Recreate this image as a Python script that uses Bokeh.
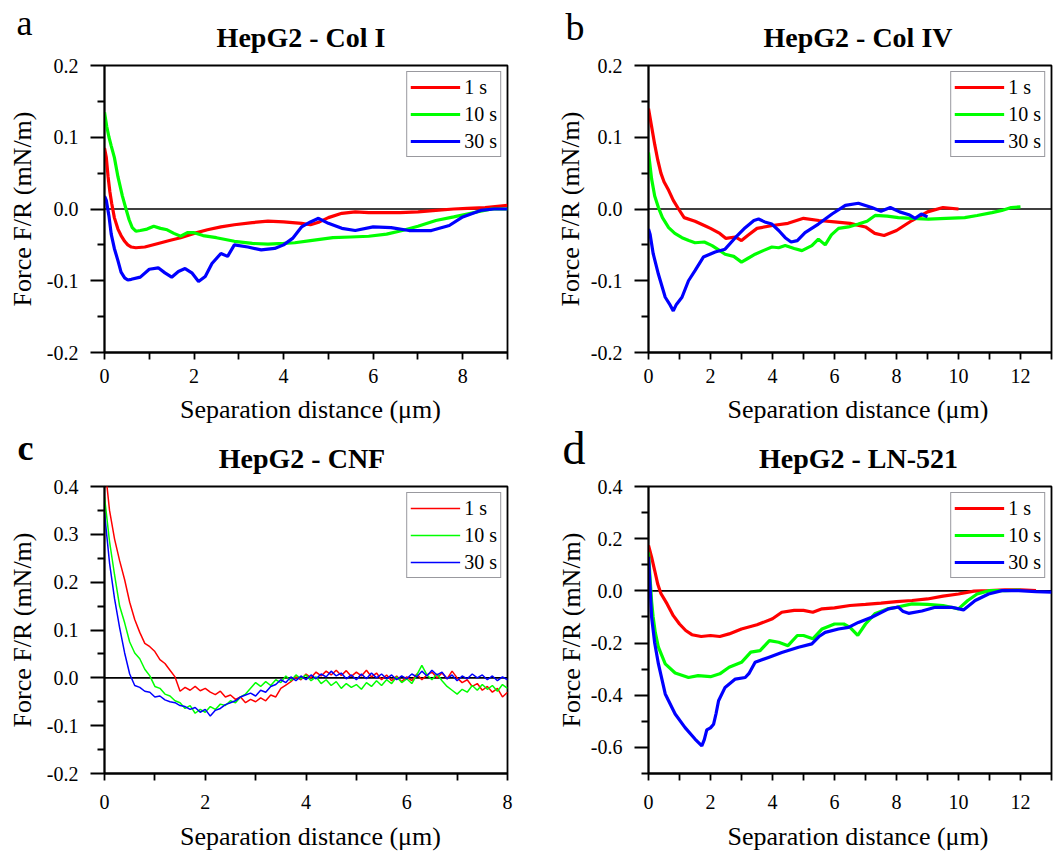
from bokeh.plotting import figure
from bokeh.models import (Range1d, FixedTicker, PrintfTickFormatter, Span, Label,
                          Legend, LegendItem)
from bokeh.layouts import column, row
from bokeh.embed import file_html
from bokeh.resources import INLINE

# ---------------- data ----------------
SERIES_LABELS = ["1 s", "10 s", "30 s"]
TITLES = ["HepG2 - Col I", "HepG2 - Col IV", "HepG2 - CNF", "HepG2 - LN-521"]
LETTERS = ["a", "b", "c", "d"]
X_LABEL = "Separation distance (\u03bcm)"
Y_LABEL = "Force F/R (mN/m)"

# Panel a: HepG2 - Col I
A_X_1S = [0.0, 0.04, 0.08, 0.12, 0.16, 0.22, 0.3, 0.37, 0.45, 0.52, 0.6, 0.7, 0.9, 1.2, 1.45, 1.7, 2.0, 2.3, 2.6, 2.9,
          3.3, 3.65, 4.0, 4.4, 4.6, 4.8, 5.0, 5.3, 5.6, 5.9, 6.3, 6.6, 7.0, 7.4, 7.8, 8.1, 8.5, 9.0]
A_Y_1S = [0.085, 0.072, 0.045, 0.024, 0.008, -0.012, -0.028, -0.037, -0.045, -0.050,
          -0.053, -0.054, -0.053, -0.048, -0.044, -0.040, -0.034, -0.029, -0.025, -0.022,
          -0.019, -0.017, -0.018, -0.020, -0.022, -0.018, -0.012, -0.006, -0.004, -0.005,
          -0.005, -0.005, -0.004, -0.002, 0.000, 0.001, 0.002, 0.005]
A_X_10S = [0.0, 0.05, 0.1, 0.15, 0.22, 0.3, 0.4, 0.48, 0.55, 0.62, 0.7, 0.8, 0.95, 1.1, 1.25, 1.4, 1.55, 1.7, 1.85, 2.0,
           2.2, 2.5, 2.9, 3.3, 3.65, 4.0, 4.25, 4.6, 5.1, 5.5, 5.9, 6.3, 6.65, 7.0, 7.4, 7.8, 8.1, 8.4, 8.65, 9.0]
A_Y_10S = [0.135, 0.115, 0.100, 0.088, 0.072, 0.045, 0.018, 0.000, -0.015, -0.026,
           -0.031, -0.030, -0.028, -0.024, -0.027, -0.029, -0.034, -0.038, -0.033, -0.033,
           -0.037, -0.040, -0.045, -0.048, -0.049, -0.048, -0.047, -0.044, -0.040, -0.039,
           -0.038, -0.035, -0.030, -0.024, -0.016, -0.011, -0.007, -0.003, 0.000, 0.000]
A_X_30S = [0.0, 0.04, 0.1, 0.15, 0.22, 0.3, 0.37, 0.45, 0.52, 0.6, 0.8, 1.0, 1.2, 1.35, 1.5, 1.65, 1.8, 1.95, 2.1, 2.25,
           2.4, 2.6, 2.75, 2.9, 3.2, 3.5, 3.8, 4.0, 4.2, 4.4, 4.6, 4.78, 5.0, 5.3, 5.6, 6.0, 6.4, 6.8, 7.3, 7.7,
           8.0, 8.4, 8.7, 9.0]
A_Y_30S = [0.018, 0.012, -0.010, -0.035, -0.055, -0.072, -0.088, -0.096, -0.099, -0.098,
           -0.095, -0.084, -0.082, -0.089, -0.095, -0.087, -0.083, -0.089, -0.101, -0.094,
           -0.076, -0.062, -0.066, -0.050, -0.053, -0.057, -0.055, -0.050, -0.041, -0.025,
           -0.018, -0.013, -0.020, -0.027, -0.030, -0.025, -0.026, -0.030, -0.030, -0.023,
           -0.011, -0.002, 0.000, 0.000]

# Panel b: HepG2 - Col IV
B_X_1S = [0.0, 0.1, 0.2, 0.3, 0.4, 0.5, 0.65, 0.8, 0.97, 1.15, 1.5, 1.8, 2.0, 2.3, 2.5, 2.8, 3.0, 3.2, 3.5, 4.0,
          4.5, 5.0, 5.5, 6.0, 6.5, 7.0, 7.3, 7.6, 8.0, 8.5, 9.0, 9.5, 10.0]
B_Y_1S = [0.140, 0.115, 0.090, 0.068, 0.050, 0.038, 0.026, 0.012, 0.000, -0.012,
          -0.017, -0.023, -0.027, -0.034, -0.041, -0.039, -0.044, -0.037, -0.027, -0.023,
          -0.020, -0.013, -0.016, -0.018, -0.020, -0.025, -0.034, -0.037, -0.030, -0.016,
          -0.004, 0.002, 0.000]
B_X_10S = [0.0, 0.1, 0.2, 0.32, 0.45, 0.65, 0.85, 1.08, 1.3, 1.5, 1.8, 2.05, 2.3, 2.47, 2.75, 3.0, 3.2, 3.44, 3.7, 3.98,
           4.2, 4.41, 4.7, 4.95, 5.27, 5.48, 5.7, 5.9, 6.13, 6.45, 6.77, 7.05, 7.31, 7.7, 8.06, 8.5, 9.03, 9.6, 10.2, 10.6,
           11.08, 11.4, 11.7, 12.0]
B_Y_10S = [0.079, 0.042, 0.018, 0.002, -0.012, -0.026, -0.034, -0.040, -0.044, -0.047,
           -0.046, -0.051, -0.058, -0.063, -0.066, -0.074, -0.069, -0.063, -0.058, -0.053,
           -0.054, -0.051, -0.055, -0.058, -0.051, -0.042, -0.050, -0.036, -0.027, -0.025,
           -0.021, -0.017, -0.009, -0.010, -0.012, -0.013, -0.014, -0.013, -0.012, -0.009,
           -0.005, -0.002, 0.002, 0.003]
B_X_30S = [0.0, 0.05, 0.15, 0.32, 0.54, 0.7, 0.8, 0.9, 1.08, 1.29, 1.5, 1.77, 2.15, 2.47, 2.8, 3.12, 3.4, 3.55, 3.75, 3.98,
           4.2, 4.41, 4.6, 4.8, 5.05, 5.48, 5.92, 6.35, 6.77, 7.2, 7.5, 7.8, 8.1, 8.4, 8.6, 8.8, 9.0]
B_Y_30S = [-0.028, -0.035, -0.062, -0.091, -0.123, -0.134, -0.142, -0.133, -0.123, -0.100,
           -0.086, -0.067, -0.060, -0.056, -0.040, -0.026, -0.016, -0.014, -0.018, -0.021,
           -0.030, -0.040, -0.046, -0.044, -0.033, -0.021, -0.007, 0.005, 0.008, 0.002,
           -0.003, 0.002, -0.004, -0.008, -0.013, -0.007, -0.011]

# Panel c: HepG2 - CNF (noisy traces sampled every 0.1 um)
C_X = [0.0, 0.1, 0.2, 0.3, 0.4, 0.5, 0.6, 0.7, 0.8, 0.9,
       1.0, 1.1, 1.2, 1.3, 1.4, 1.5, 1.6, 1.7, 1.8, 1.9,
       2.0, 2.1, 2.2, 2.3, 2.4, 2.5, 2.6, 2.7, 2.8, 2.9,
       3.0, 3.1, 3.2, 3.3, 3.4, 3.5, 3.6, 3.7, 3.8, 3.9,
       4.0, 4.1, 4.2, 4.3, 4.4, 4.5, 4.6, 4.7, 4.8, 4.9,
       5.0, 5.1, 5.2, 5.3, 5.4, 5.5, 5.6, 5.7, 5.8, 5.9,
       6.0, 6.1, 6.2, 6.3, 6.4, 6.5, 6.6, 6.7, 6.8, 6.9,
       7.0, 7.1, 7.2, 7.3, 7.4, 7.5, 7.6, 7.7, 7.8, 7.9,
       8.0]
C_Y_1S = [0.450, 0.350, 0.290, 0.245, 0.205, 0.158, 0.122, 0.095, 0.072, 0.065,
          0.055, 0.038, 0.030, 0.016, 0.002, -0.028, -0.020, -0.026, -0.018, -0.027,
          -0.022, -0.030, -0.035, -0.028, -0.040, -0.036, -0.045, -0.040, -0.052, -0.045,
          -0.050, -0.042, -0.048, -0.036, -0.040, -0.022, -0.015, -0.008, 0.002, -0.004,
          0.008, 0.000, 0.012, 0.004, 0.014, 0.006, 0.016, 0.005, 0.015, 0.003,
          0.012, 0.004, 0.016, 0.002, 0.010, -0.004, 0.006, -0.006, 0.004, -0.008,
          0.002, -0.006, 0.008, -0.004, 0.006, 0.012, 0.000, 0.010, -0.002, 0.014,
          0.000, -0.010, -0.004, -0.018, -0.012, -0.026, -0.018, -0.030, -0.022, -0.040,
          -0.030]
C_Y_10S = [0.378, 0.285, 0.215, 0.150, 0.115, 0.075, 0.052, 0.040, 0.018, 0.004,
           -0.018, -0.022, -0.034, -0.038, -0.048, -0.052, -0.064, -0.058, -0.074, -0.066,
           -0.072, -0.060, -0.066, -0.055, -0.058, -0.048, -0.052, -0.040, -0.034, -0.022,
           -0.010, -0.018, -0.008, -0.016, -0.004, -0.010, 0.004, -0.006, 0.006, -0.002,
           0.006, -0.006, 0.002, -0.012, -0.004, -0.016, -0.008, -0.022, -0.012, -0.020,
           -0.014, -0.024, -0.010, -0.018, -0.006, -0.016, -0.004, -0.012, 0.002, -0.010,
           -0.002, -0.012, 0.006, 0.026, 0.006, -0.004, 0.008, -0.006, -0.018, -0.026,
           -0.034, -0.024, -0.030, -0.016, -0.026, -0.014, -0.024, -0.016, -0.028, -0.014,
           -0.022]
C_Y_30S = [0.345, 0.240, 0.165, 0.105, 0.052, 0.008, -0.016, -0.020, -0.028, -0.030,
           -0.040, -0.038, -0.046, -0.050, -0.052, -0.058, -0.060, -0.066, -0.062, -0.072,
           -0.066, -0.080, -0.068, -0.064, -0.056, -0.052, -0.048, -0.040, -0.036, -0.032,
           -0.038, -0.026, -0.030, -0.018, -0.014, -0.004, -0.010, 0.002, -0.006, 0.004,
           -0.004, 0.006, -0.002, 0.008, 0.002, 0.014, 0.004, 0.010, -0.002, 0.006,
           -0.004, 0.008, -0.002, 0.010, 0.000, 0.008, -0.002, 0.006, -0.004, 0.004,
           -0.002, 0.008, 0.002, 0.014, 0.004, 0.016, 0.006, 0.012, -0.002, 0.006,
           -0.006, 0.004, -0.002, 0.008, 0.000, 0.006, -0.004, 0.004, -0.006, 0.002,
           -0.004]

# Panel d: HepG2 - LN-521
D_X_1S = [0.0, 0.1, 0.2, 0.3, 0.4, 0.6, 0.8, 1.0, 1.2, 1.4, 1.7, 2.0, 2.3, 2.6, 3.0, 3.5, 4.0, 4.3, 4.7, 5.0,
          5.3, 5.6, 6.0, 6.5, 7.0, 7.5, 8.0, 8.5, 9.0, 9.5, 10.0, 10.5, 11.0, 11.5, 12.0, 12.5]
D_Y_1S = [0.174, 0.129, 0.078, 0.025, -0.010, -0.050, -0.095, -0.127, -0.152, -0.168,
          -0.175, -0.171, -0.175, -0.165, -0.146, -0.130, -0.107, -0.082, -0.075, -0.075,
          -0.082, -0.069, -0.065, -0.056, -0.052, -0.047, -0.041, -0.037, -0.031, -0.020,
          -0.012, -0.001, 0.001, 0.004, 0.004, 0.001]
D_X_10S = [0.0, 0.05, 0.1, 0.15, 0.22, 0.32, 0.54, 0.86, 1.29, 1.6, 2.0, 2.3, 2.6, 3.0, 3.3, 3.6, 3.9, 4.2, 4.5, 4.8,
           5.0, 5.3, 5.6, 6.0, 6.3, 6.5, 6.75, 7.0, 7.3, 7.7, 8.0, 8.5, 9.0, 9.5, 10.0, 10.3, 10.6, 11.0, 11.5, 12.0]
D_Y_10S = [0.148, 0.050, -0.040, -0.100, -0.160, -0.216, -0.280, -0.315, -0.332, -0.325,
           -0.329, -0.318, -0.293, -0.274, -0.235, -0.229, -0.191, -0.197, -0.210, -0.171,
           -0.171, -0.184, -0.146, -0.127, -0.127, -0.140, -0.171, -0.127, -0.088, -0.069,
           -0.063, -0.050, -0.052, -0.056, -0.069, -0.037, -0.012, 0.001, 0.001, 0.003]
D_X_30S = [0.0, 0.05, 0.1, 0.2, 0.32, 0.54, 0.86, 1.18, 1.5, 1.72, 1.8, 1.88, 2.0, 2.1, 2.18, 2.26, 2.47, 2.8, 3.12, 3.25,
           3.44, 3.87, 4.3, 4.84, 5.27, 5.5, 5.7, 6.13, 6.45, 6.77, 7.2, 7.74, 8.06, 8.2, 8.39, 8.82, 9.25, 9.78, 10.16, 10.54,
           10.97, 11.4, 11.94, 12.5, 13.0]
D_Y_30S = [0.130, 0.020, -0.100, -0.200, -0.280, -0.395, -0.472, -0.524, -0.568, -0.594,
           -0.570, -0.533, -0.525, -0.511, -0.470, -0.421, -0.370, -0.338, -0.332, -0.315,
           -0.274, -0.255, -0.236, -0.216, -0.203, -0.175, -0.159, -0.146, -0.140, -0.121,
           -0.101, -0.069, -0.062, -0.078, -0.086, -0.077, -0.063, -0.063, -0.073, -0.037,
           -0.012, 0.001, 0.001, -0.003, -0.005]

# Axis ranges and ticks
A_XR, A_YR = (0, 9), (-0.2, 0.2)
B_XR, B_YR = (0, 13), (-0.2, 0.2)
C_XR, C_YR = (0, 8), (-0.2, 0.4)
D_XR, D_YR = (0, 13), (-0.7, 0.4)
A_XT, A_XMT = [0, 2, 4, 6, 8], [1, 3, 5, 7, 9]
B_XT, B_XMT = [0, 2, 4, 6, 8, 10, 12], [1, 3, 5, 7, 9, 11, 13]
C_XT, C_XMT = [0, 2, 4, 6, 8], [1, 3, 5, 7]
AB_YT, AB_YMT = [-0.2, -0.1, 0.0, 0.1, 0.2], [-0.15, -0.05, 0.05, 0.15]
C_YT = [-0.2, -0.1, 0.0, 0.1, 0.2, 0.3, 0.4]
C_YMT = [-0.15, -0.05, 0.05, 0.15, 0.25, 0.35]
D_YT = [-0.6, -0.4, -0.2, 0.0, 0.2, 0.4]
D_YMT = [-0.7, -0.5, -0.3, -0.1, 0.1, 0.3]

# ---------------- styling / layout (page pixels) ----------------
FONT = "Liberation Serif"
COLORS = ["#FF0000", "#00FF00", "#0000FF"]
FW, FH = 403, 287        # plot frame size
PAGE_W = 1060
STRIP1 = (0, 53)          # letters + titles of row 1
ROW1 = (53, 393)
STRIP2 = (393, 474)       # x labels of row 1, letters + titles of row 2
ROW2 = (474, 818)
STRIP3 = (818, 852)       # x labels of row 2
BASE_SHIFT = 0.3375       # text middle lies this many em above the baseline

PANELS = [
    dict(series=[(A_X_1S, A_Y_1S), (A_X_10S, A_Y_10S), (A_X_30S, A_Y_30S)], lw=3.2,
         xr=A_XR, yr=A_YR, xt=A_XT, xmt=A_XMT, yt=AB_YT, ymt=AB_YMT,
         box=(0, ROW1[0], 530, ROW1[1]), frame=(104, 65), xstand=9, yls=7),
    dict(series=[(B_X_1S, B_Y_1S), (B_X_10S, B_Y_10S), (B_X_30S, B_Y_30S)], lw=3.2,
         xr=B_XR, yr=B_YR, xt=B_XT, xmt=B_XMT, yt=AB_YT, ymt=AB_YMT,
         box=(530, ROW1[0], 1060, ROW1[1]), frame=(648, 65), xstand=9, yls=3),
    dict(series=[(C_X, C_Y_1S), (C_X, C_Y_10S), (C_X, C_Y_30S)], lw=1.5,
         xr=C_XR, yr=C_YR, xt=C_XT, xmt=C_XMT, yt=C_YT, ymt=C_YMT,
         box=(0, ROW2[0], 530, ROW2[1]), frame=(104, 486), xstand=14, yls=7),
    dict(series=[(D_X_1S, D_Y_1S), (D_X_10S, D_Y_10S), (D_X_30S, D_Y_30S)], lw=3.2,
         xr=D_XR, yr=D_YR, xt=B_XT, xmt=B_XMT, yt=D_YT, ymt=D_YMT,
         box=(530, ROW2[0], 1060, ROW2[1]), frame=(648, 486), xstand=14, yls=2),
]

# texts placed in the strips: (text, x, baseline y, size px, bold, align)
STRIP_TEXTS = {
    STRIP1: [(LETTERS[0], 16, 35, 36, False, "left"),
             (LETTERS[1], 565, 39, 38, False, "left"),
             (TITLES[0], 300.5, 46.5, 28, True, "center"),
             (TITLES[1], 857.5, 46.5, 28, True, "center")],
    STRIP2: [(X_LABEL, 310, 417.5, 26, False, "center"),
             (X_LABEL, 857.5, 417.5, 26, False, "center"),
             (LETTERS[2], 17, 460, 36, True, "left"),
             (LETTERS[3], 562, 463.5, 46, False, "left"),
             (TITLES[2], 301.5, 467.5, 28, True, "center"),
             (TITLES[3], 858, 467.5, 28, True, "center")],
    STRIP3: [(X_LABEL, 310, 845, 26, False, "center"),
             (X_LABEL, 857.5, 845, 26, False, "center")],
}


def make_strip(span):
    top, bottom = span
    s = figure(width=PAGE_W, height=bottom - top, x_range=Range1d(0, PAGE_W),
               y_range=Range1d(bottom, top), x_axis_type=None, y_axis_type=None,
               output_backend="svg", toolbar_location=None, min_border=0)
    s.outline_line_color = None
    s.grid.visible = False
    s.background_fill_color = "white"
    s.border_fill_color = "white"
    for text, x, base, size, bold, align in STRIP_TEXTS[span]:
        s.add_layout(Label(x=x, y=base - BASE_SHIFT * size, text=text, text_font=FONT,
                           text_font_size=f"{size}px",
                           text_font_style="bold" if bold else "normal", text_color="black",
                           text_align=align, text_baseline="middle"))
    return s


def make_panel(P):
    x0, y0, x1, y1 = P["box"]
    fl, ft = P["frame"]
    w, h = x1 - x0, y1 - y0
    mbl, mbt = fl - x0, ft - y0
    p = figure(width=w, height=h, x_range=Range1d(*P["xr"]), y_range=Range1d(*P["yr"]),
               output_backend="svg", toolbar_location=None,
               min_border_left=mbl, min_border_top=mbt,
               min_border_right=w - mbl - FW, min_border_bottom=h - mbt - FH)
    p.grid.visible = False
    p.outline_line_color = "black"
    p.outline_line_width = 1.8
    p.outline_line_alpha = 1.0
    p.background_fill_color = "white"
    p.border_fill_color = "white"

    p.xaxis.ticker = FixedTicker(ticks=P["xt"], minor_ticks=P["xmt"])
    p.yaxis.ticker = FixedTicker(ticks=P["yt"], minor_ticks=P["ymt"])
    p.yaxis.formatter = PrintfTickFormatter(format="%.1f")
    p.xaxis.formatter = PrintfTickFormatter(format="%d")
    for ax in (p.xaxis, p.yaxis):
        ax.axis_line_color = "black"
        ax.axis_line_width = 1.8
        ax.major_tick_line_color = "black"
        ax.minor_tick_line_color = "black"
        ax.major_tick_line_width = 1.8
        ax.minor_tick_line_width = 1.8
        ax.major_tick_in = 0
        ax.minor_tick_in = 0
        ax.major_label_text_font = FONT
        ax.major_label_text_font_size = "20px"
        ax.major_label_text_color = "black"
    p.xaxis.major_tick_out = 7
    p.xaxis.minor_tick_out = 7
    p.xaxis.major_label_standoff = P["xstand"]
    p.yaxis.major_tick_out = 14
    p.yaxis.minor_tick_out = 7
    p.yaxis.major_label_standoff = 12
    p.yaxis.axis_label = Y_LABEL
    p.yaxis.axis_label_text_font = FONT
    p.yaxis.axis_label_text_font_size = "26px"
    p.yaxis.axis_label_text_font_style = "normal"
    p.yaxis.axis_label_text_color = "black"
    p.yaxis.axis_label_standoff = P["yls"]

    p.add_layout(Span(location=0, dimension="width", line_color="black",
                      line_width=1.6, level="underlay"))

    items = []
    for (xs, ys), col, lab in zip(P["series"], COLORS, SERIES_LABELS):
        r = p.line(xs, ys, line_color=col, line_width=P["lw"])
        items.append(LegendItem(label=lab, renderers=[r]))
    legend = Legend(items=items, location="top_right", margin=6, padding=3, spacing=3,
                    glyph_width=50, glyph_height=24, label_height=24, label_standoff=4,
                    label_text_font=FONT, label_text_font_size="20px", label_text_color="black",
                    border_line_color="#333340", border_line_width=1.2,
                    background_fill_color="white", background_fill_alpha=1.0)
    p.add_layout(legend)
    return p


figs = [make_panel(P) for P in PANELS]
layout = column(make_strip(STRIP1), row(figs[0], figs[1]),
                make_strip(STRIP2), row(figs[2], figs[3]),
                make_strip(STRIP3))
open("out.html", "w").write(file_html(layout, INLINE))
